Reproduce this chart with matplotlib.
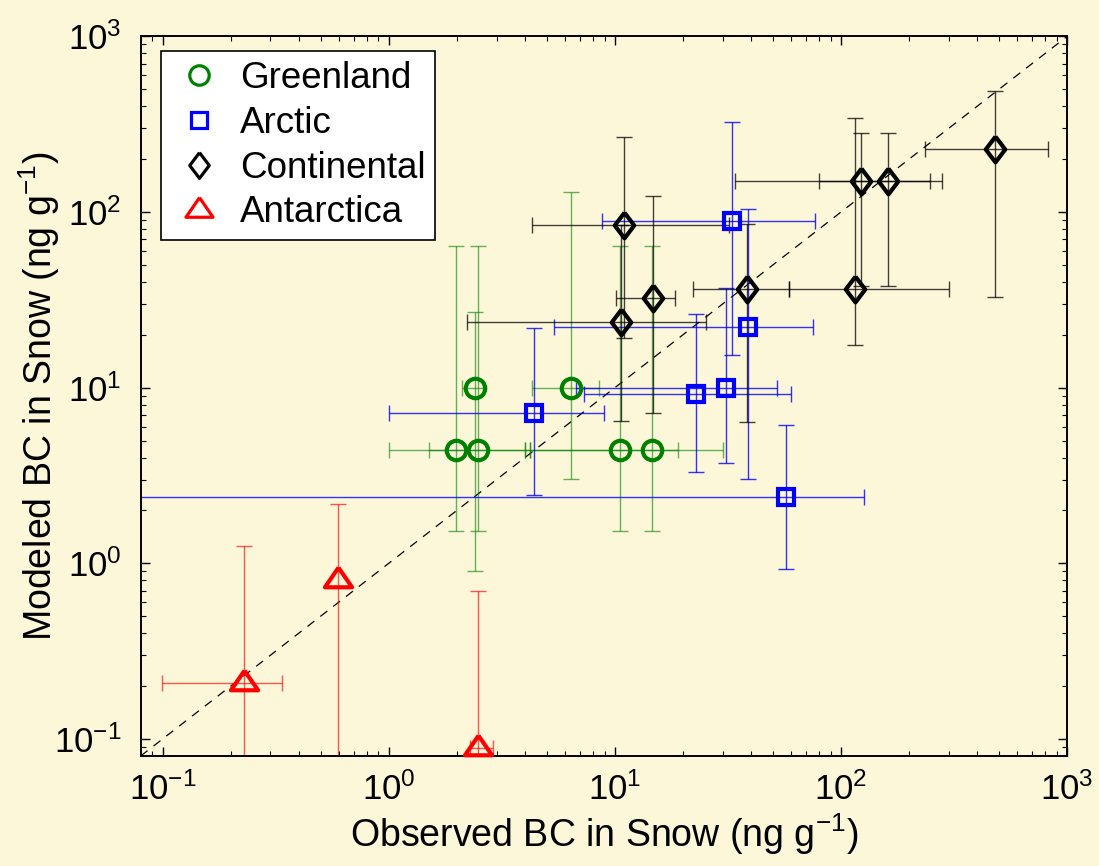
import numpy as np
import matplotlib
matplotlib.use("Agg")
import matplotlib.pyplot as plt

plt.rcParams['font.family'] = ['Liberation Sans', 'DejaVu Sans']
plt.rcParams['mathtext.fontset'] = 'custom'
plt.rcParams['mathtext.rm'] = 'Liberation Sans'
plt.rcParams['mathtext.it'] = 'Liberation Sans:italic'
plt.rcParams['mathtext.bf'] = 'Liberation Sans:bold'

# --- data: value, then lower / upper bound of the range (ng g-1) ---
# nan = no bar in that direction, 0.01 = bar runs off the chart
green_x = [1.99, 2.49, 2.40, 6.39, 10.5, 14.6]
green_y = [4.4, 4.4, 9.9, 9.9, 4.4, 4.4]
green_xlo = [1.0, 1.5, 2.1, 4.3, 4.0, 4.2]
green_xhi = [4.0, 4.2, 2.6, 8.5, 19.0, 30.0]
green_ylo = [1.52, 1.52, 0.90, 3.03, 1.52, 1.52]
green_yhi = [64, 64, 27, 130, 64, 64]

blue_x = [4.40, 32.9, 38.6, 22.8, 30.9, 56.9]
blue_y = [7.19, 88.6, 22.1, 9.21, 10.0, 2.38]
blue_xlo = [1.0, 8.79, 5.39, 7.29, 6.70, 0.01]
blue_xhi = [8.97, 76.9, 75.4, 60.1, 51.9, 127]
blue_ylo = [2.46, 15.3, 3.02, 3.30, 3.75, 0.93]
blue_yhi = [21.9, 327, 104, 26.4, 37.1, 6.10]

black_x = [10.98, 14.68, 10.6, 38.5, 115, 123, 161, 482]
black_y = [84.2, 32.5, 23.7, 36.3, 36.3, 150, 150, 229]
black_xlo = [4.31, 10.07, 2.21, 22.1, 59.1, 34.1, 80, 235]
black_xhi = [31.9, 18.5, 25.3, 59.1, 301, 248, 279, 826]
black_ylo = [19.1, 7.16, 6.48, 6.40, 17.6, 37.8, 37.8, 32.8]
black_yhi = [266, 124, 84, 85.9, 345, 281, 281, 489]

red_x = [0.229, 0.597, 2.48]
red_y = [0.207, 0.809, 0.089]
red_xlo = [0.0997, np.nan, 2.28]
red_xhi = [0.339, np.nan, 2.90]
red_ylo = [0.01, 0.01, 0.01]
red_yhi = [1.25, 2.18, 0.698]

lims = [0.08, 1000]
bg = '#FDF7DA'

diamond = [(0, 1), (0.76, 0), (0, -1), (-0.76, 0), (0, 1)]
triangle = [(0, 0.95), (1, -0.5), (-1, -0.5), (0, 0.95)]

groups = [
    ('Greenland', green_x, green_y, green_xlo, green_xhi, green_ylo, green_yhi,
     'o', 14, (0, 0.5, 0), (0, 0.5, 0, 0.6)),
    ('Arctic', blue_x, blue_y, blue_xlo, blue_xhi, blue_ylo, blue_yhi,
     's', 11.5, (0, 0, 1), (0, 0, 1, 0.8)),
    ('Continental', black_x, black_y, black_xlo, black_xhi, black_ylo, black_yhi,
     diamond, 18.5, (0, 0, 0), (0, 0, 0, 0.75)),
    ('Antarctica', red_x, red_y, red_xlo, red_xhi, red_ylo, red_yhi,
     triangle, 19.5, (1, 0, 0), (1, 0, 0, 0.65)),
]

fig = plt.figure(figsize=(10.99, 8.66), dpi=100, facecolor=bg)
ax = fig.add_axes([0.128, 0.127, 0.843, 0.831])
ax.set_facecolor(bg)
ax.set_xscale('log')
ax.set_yscale('log')

ax.plot(lims, lims, color='k', lw=0.9, dashes=(7, 6), zorder=1)

for name, x, y, xlo, xhi, ylo, yhi, mk, ms, col, ecol in groups:
    x = np.array(x); y = np.array(y)
    xerr = np.array([x - np.array(xlo), np.array(xhi) - x])
    yerr = np.array([y - np.array(ylo), np.array(yhi) - y])
    ax.errorbar(x, y, xerr=xerr, yerr=yerr, fmt='none', ecolor=ecol,
                elinewidth=1.0, capsize=5.5, capthick=1.0, zorder=2)
    ax.plot(x, y, ls='none', marker=mk, ms=ms, mfc='none', mec=col,
            mew=3.0, label=name, zorder=3, clip_on=False)

ax.set_xlim(lims)
ax.set_ylim(lims)

for s in ax.spines.values():
    s.set_linewidth(1.4)
ax.tick_params(which='both', direction='in', top=True, right=True)
ax.tick_params(which='major', length=6.5, width=1.0, labelsize=25, pad=12)
ax.tick_params(which='minor', length=3.6, width=0.8)
ax.tick_params(axis='y', which='major', pad=14)

ax.set_xlabel(r'Observed BC in Snow (ng g$^{-1}$)', fontsize=27, labelpad=3)
ax.set_ylabel(r'Modeled BC in Snow (ng g$^{-1}$)', fontsize=27, labelpad=-6)

leg = ax.legend(loc='upper left', bbox_to_anchor=(0.0216, 0.979), borderaxespad=0,
                fontsize=26.5, frameon=True, fancybox=False, edgecolor='k',
                facecolor='white', framealpha=1, handletextpad=0.3,
                labelspacing=0.27, borderpad=0.25, handlelength=1.6)
leg.get_frame().set_linewidth(1.2)
for h in leg.legend_handles:
    h.set_markeredgewidth(2.3)

fig.savefig('out.png', dpi=100, facecolor=bg)
